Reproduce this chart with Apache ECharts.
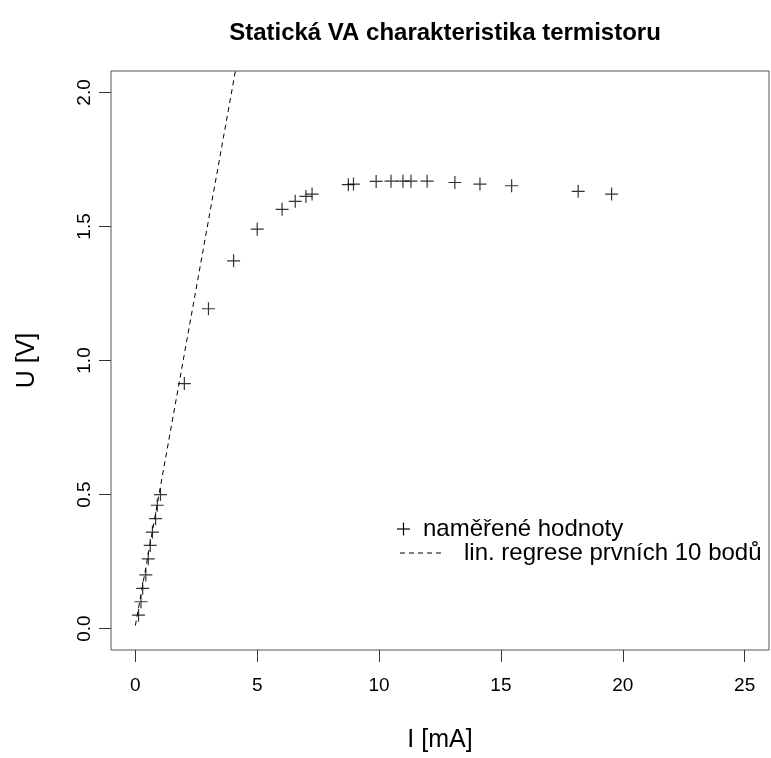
<!DOCTYPE html>
<html>
<head>
<meta charset="utf-8">
<script src="https://cdn.jsdelivr.net/npm/echarts@6/dist/echarts.min.js"></script>
<style>
html,body{margin:0;padding:0;background:#fff;}
#chart{width:771px;height:758px;}
</style>
</head>
<body>
<div id="chart"></div>
<script>
// Measured current I [mA]
const currentI = [0.13, 0.23, 0.30, 0.43, 0.53, 0.61, 0.70, 0.83, 0.90, 1.03,
  2.01, 3.00, 4.03, 5.00, 6.02, 6.56, 7.00, 7.25, 8.74, 8.95,
  9.88, 10.49, 10.98, 11.31, 11.97, 13.11, 14.14, 15.44, 18.17, 19.54];
// Measured voltage U [V]
const voltageU = [0.05, 0.10, 0.15, 0.20, 0.26, 0.31, 0.36, 0.41, 0.46, 0.50,
  0.914, 1.193, 1.372, 1.490, 1.564, 1.594, 1.612, 1.621, 1.656, 1.658,
  1.668, 1.669, 1.669, 1.669, 1.669, 1.664, 1.658, 1.652, 1.631, 1.621];
// Regression line endpoints
const regI = [0, 4.105];
const regU = [0.011, 2.08];
// Axis ticks
const xTicks = [0, 5, 10, 15, 20, 25];
const yTicks = [0, 0.5, 1.0, 1.5, 2.0];

const FONT = '"Liberation Sans", Arial, Helvetica, sans-serif';
const chart = echarts.init(document.getElementById('chart'), null, {renderer: 'canvas'});

const points = currentI.map((v, i) => [v, voltageU[i]]);
const reg = regI.map((v, i) => [v, regU[i]]);
const plus = 'path://M0,6L12,6M6,0L6,12';

chart.setOption({
  animation: false,
  backgroundColor: '#fff',
  title: {
    text: 'Statická VA charakteristika termistoru',
    left: 440, top: 16, textAlign: 'center',
    textStyle: {fontFamily: FONT, fontWeight: 'bold', fontSize: 24, color: '#000'}
  },
  grid: {
    left: 111, right: 2, top: 71, bottom: 102,
    show: true, borderColor: '#555', borderWidth: 1, backgroundColor: 'transparent'
  },
  xAxis: {
    type: 'value', min: -1, max: 26,
    name: 'I [mA]', nameLocation: 'middle', nameGap: 78,
    nameTextStyle: {fontFamily: FONT, fontSize: 25, color: '#000'},
    axisLine: {show: false, onZero: false},
    splitLine: {show: false},
    axisTick: {show: true, length: 12, customValues: xTicks, lineStyle: {color: '#333'}},
    axisLabel: {customValues: xTicks, margin: 26, fontFamily: FONT, fontSize: 19, color: '#000'}
  },
  yAxis: {
    type: 'value', min: -0.08, max: 2.08,
    name: 'U [V]', nameLocation: 'middle', nameGap: 71,
    nameTextStyle: {fontFamily: FONT, fontSize: 25, color: '#000'},
    axisLine: {show: false, onZero: false},
    splitLine: {show: false},
    axisTick: {show: true, length: 12, customValues: yTicks, lineStyle: {color: '#333'}},
    axisLabel: {customValues: yTicks, rotate: 90, margin: 17, fontFamily: FONT, fontSize: 19, color: '#000',
      formatter: v => v.toFixed(1)}
  },
  series: [
    {
      name: 'naměřené hodnoty', type: 'scatter', data: points,
      symbol: plus, symbolSize: 13,
      itemStyle: {color: 'none', borderColor: '#000', borderWidth: 1.2}
    },
    {
      name: 'lin. regrese prvních 10 bodů', type: 'line', data: reg,
      symbol: 'none', lineStyle: {color: '#000', width: 1, type: [5, 4]}
    }
  ],
  graphic: [
    {type: 'line', shape: {x1: 397, y1: 529, x2: 410, y2: 529}, style: {stroke: '#000', lineWidth: 1.2}},
    {type: 'line', shape: {x1: 403.5, y1: 522.5, x2: 403.5, y2: 535.5}, style: {stroke: '#000', lineWidth: 1.2}},
    {type: 'text', style: {x: 423, y: 529, text: 'naměřené hodnoty', verticalAlign: 'middle', fontFamily: FONT, fontSize: 24, fill: '#000'}},
    {type: 'line', shape: {x1: 400, y1: 553, x2: 442, y2: 553}, style: {stroke: '#000', lineWidth: 1, lineDash: [5, 4]}},
    {type: 'text', style: {x: 464, y: 553, text: 'lin. regrese prvních 10 bodů', verticalAlign: 'middle', fontFamily: FONT, fontSize: 24, fill: '#000'}}
  ]
});
</script>
</body>
</html>
